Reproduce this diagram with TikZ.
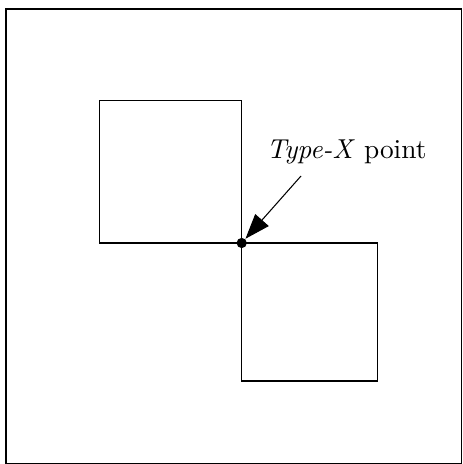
\documentclass[tikz,border=0pt]{standalone}
\usetikzlibrary{arrows.meta}
\begin{document}
\begin{tikzpicture}[x=0.38pt,y=-0.38pt,
  sq/.style={draw,line width=0.4pt},
  pointer/.style={line width=0.4pt,-{Triangle[length=9.5pt,width=6.8pt]}},
  dotmark/.style={circle,fill,inner sep=0pt,minimum size=3.9pt}]
\useasboundingbox (0,0) rectangle (462,464);
\clip (0,0) rectangle (462,464);
\draw[line width=0.5pt] (6,9) rectangle (461.5,463.5);
\draw[sq] (99.3,100.7) rectangle (241.7,243);
\draw[sq] (241.7,243) rectangle (377.3,381);
\node[dotmark] (p) at (241.7,243) {};
\node[anchor=base,font=\fontsize{10.4}{12.5}\selectfont] (lbl) at (346.5,159) {\textit{Type-X} point};
\coordinate (s) at (301,176);
\draw[pointer] (s) -- (p);
\end{tikzpicture}
\end{document}
